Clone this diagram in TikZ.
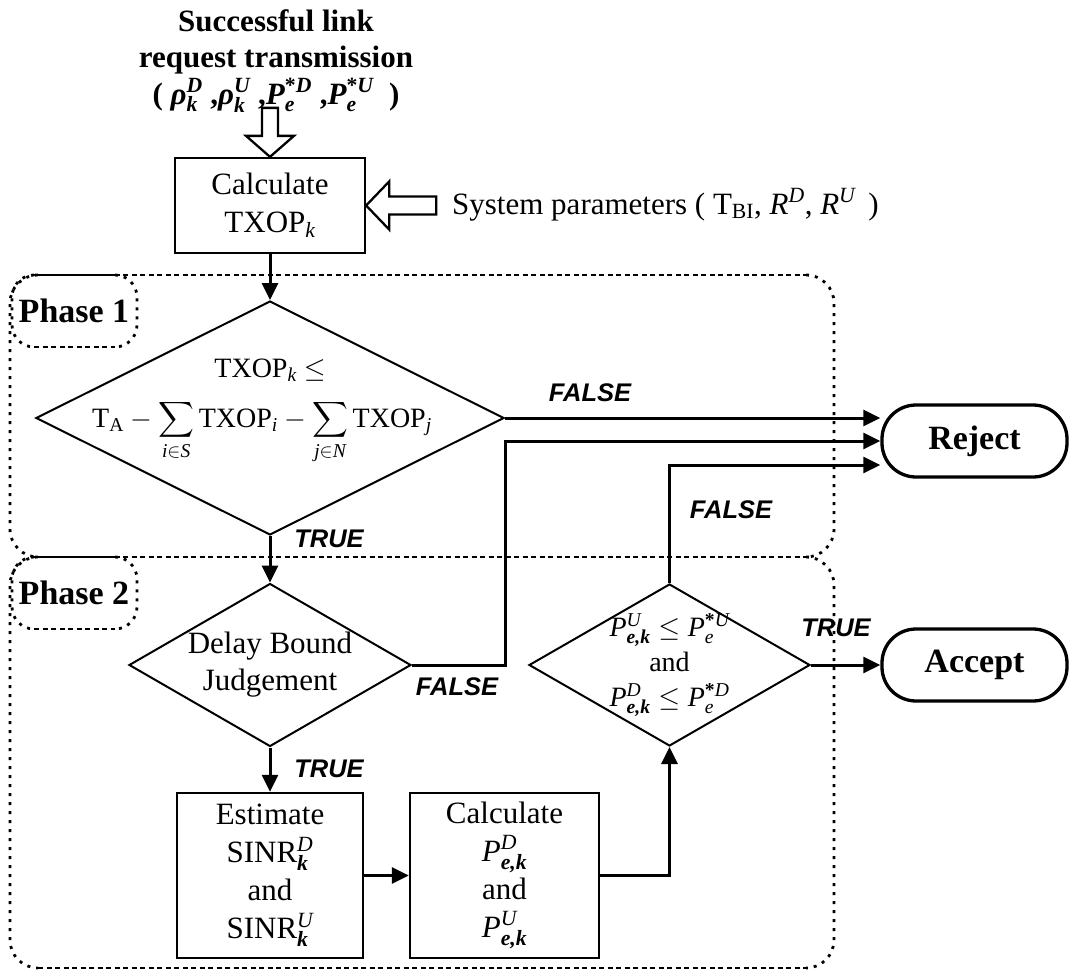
\RequirePackage{fix-cm}
\documentclass[tikz,border=0pt]{standalone}
\usepackage{amsmath}
\usepackage{fontspec}
\setmainfont{Liberation Serif}
\newfontfamily\labelsans{Liberation Sans}
\usetikzlibrary{shapes.geometric,arrows.meta,calc}

% italic and bold-italic variables
\newcommand\vi[1]{\textit{#1}}
\newcommand\vb[1]{\textit{\textbf{#1}}}

% rounded frame: dashed horizontal edges, dotted sides and corners
\newcommand\phaseframe[5]{%
  \draw[hdash] (#1+#5,#2) -- (#3-#5,#2);
  \draw[hdash] (#1+#5,#4) -- (#3-#5,#4);
  \draw[vdot,rounded corners=#5pt] (#1+#5,#2) -- (#1,#2) -- (#1,#4) -- (#1+#5,#4);
  \draw[vdot,rounded corners=#5pt] (#3-#5,#2) -- (#3,#2) -- (#3,#4) -- (#3-#5,#4);
}

\begin{document}
\begin{tikzpicture}[x=1pt,y=-1pt,
  txt/.style={font=\fontsize{31}{37}\selectfont, inner sep=0pt, align=center},
  procbox/.style={draw, line width=2.3pt, rectangle, inner sep=0pt, align=center,
                  font=\fontsize{31}{38}\selectfont},
  decision/.style={draw, diamond, line width=2pt, inner sep=0pt},
  terminal/.style={draw, line width=3.3pt, rounded corners=34pt, minimum width=185pt,
                   minimum height=72pt, inner sep=0pt, font=\bfseries\fontsize{34}{40}\selectfont},
  flow/.style={line width=3pt, -{Triangle[length=17pt,width=16pt]}},
  tf/.style={font=\labelsans\bfseries\itshape\fontsize{25.5}{30}\selectfont, inner sep=0pt},
  hollow/.style={draw, line width=2.3pt, fill=white, line join=miter},
  hdash/.style={line width=2.8pt, dash pattern=on 5pt off 3.5pt},
  vdot/.style={line width=2.8pt, dash pattern=on 3pt off 6pt},
  phasetag/.style={font=\bfseries\fontsize{34}{40}\selectfont, inner sep=0pt}
]
\useasboundingbox (0,0) rectangle (1072,972);

% phase frames
\phaseframe{10}{275}{834}{557}{28}
\phaseframe{10}{557}{834}{968}{28}
\phaseframe{12}{275}{137}{347}{22}
\phaseframe{12}{557}{137}{629}{22}
\node[phasetag] (ph1) at (74,311) {Phase 1};
\node[phasetag] (ph2) at (74,593) {Phase 2};

% inputs
\node[txt, font=\bfseries\fontsize{31}{36}\selectfont, anchor=north] (req) at (276,9)
  {Successful link\\request transmission\\[1pt]
   ( \vb{ρ}$^{\vi{D}}_{\vi{k}}$ ,\vb{ρ}$^{\vi{U}}_{\vi{k}}$ ,\vi{P}$^{\textbf{*}\vi{D}}_{\vi{e}}$ ,\vi{P}$^{\textbf{*}\vi{U}}_{\vi{e}}$ \ )};
\node[procbox, minimum width=190pt, minimum height=95pt] (calc) at (270,205.5)
  {Calculate\\TXOP$_{\vi{k}}$};
\node[txt, anchor=base west] (sys) at (452,214)
  {System parameters ( T$_{\text{BI}}$, \vi{R}$^{\vi{D}}$, \vi{R}$^{\vi{U}}$ \,)};
\draw[hollow] (calc.north) -- ++(-24,-21) -- ++(16,0) -- ++(0,-28) -- ++(16,0)
  -- ++(0,28) -- ++(16,0) -- cycle;
\draw[hollow] (calc.east) -- ++(23,-24) -- ++(0,15) -- ++(47,0) -- ++(0,18)
  -- ++(-47,0) -- ++(0,15) -- cycle;

% phase 1
\node[decision, minimum width=468pt, minimum height=234pt] (d1) at (270,418) {};
\node[txt, font=\fontsize{28}{32}\selectfont, anchor=base] (d1a) at (270,377)
  {TXOP$_{\vi{k}}$ $\leq$};
\node[txt, font=\fontsize{28}{32}\selectfont, anchor=base] (d1b) at (262,427)
  {$\text{T}_{\text{A}} - \displaystyle\sum_{\vi{i}\in\vi{S}}\text{TXOP}_{\vi{i}}
   - \sum_{\vi{j}\in\vi{N}}\text{TXOP}_{\vi{j}}$};

% phase 2
\node[decision, minimum width=282pt, minimum height=163pt] (d2) at (270,665) {};
\node[txt] (d2t) at (270,665) {Delay Bound\\Judgement};
\node[procbox, minimum width=186pt, minimum height=165pt] (est) at (270,875.5)
  {Estimate\\SINR$^{\vi{D}}_{\vb{k}}$\\and\\SINR$^{\vi{U}}_{\vb{k}}$};
\node[procbox, minimum width=189pt, minimum height=165pt] (pe) at (504.5,875.5)
  {Calculate\\$\vi{P}^{\vi{D}}_{\vb{e,k}}$\\and\\$\vi{P}^{\vi{U}}_{\vb{e,k}}$};
\node[decision, minimum width=281pt, minimum height=162pt] (d3) at (669.5,665) {};
\node[txt, font=\fontsize{28}{35}\selectfont] (d3t) at (669.5,665)
  {$\vi{P}^{\vi{U}}_{\vb{e,k}}\leq\vi{P}^{\textbf{*}\vi{U}}_{\vi{e}}$\\and\\
   $\vi{P}^{\vi{D}}_{\vb{e,k}}\leq\vi{P}^{\textbf{*}\vi{D}}_{\vi{e}}$};

% outcomes
\node[terminal] (rej) at (974.5,441) {Reject};
\node[terminal] (acc) at (974.5,665) {Accept};

% connectors
\coordinate (j2) at (505,441);
\coordinate (j3) at (669.5,465);
\draw[flow] (calc.south) -- (d1.north);
\draw[flow] (d1.east) -- (d1.east -| rej.west);
\draw[flow] (d1.south) -- (d2.north);
\draw[flow] (d2.east) -| (j2) -- (rej.west);
\draw[flow] (d2.south) -- (est.north);
\draw[flow] (est.east) -- (pe.west);
\draw[flow] (pe.east) -| (d3.south);
\draw[flow] (d3.north) -- (j3) -- (j3 -| rej.west);
\draw[flow] (d3.east) -- (acc.west);

% branch labels
\node[tf] (f1) at (590,393) {FALSE};
\node[tf] (t1) at (329,539) {TRUE};
\node[tf] (f2) at (457,687) {FALSE};
\node[tf] (t2) at (329,769) {TRUE};
\node[tf] (f3) at (731,510) {FALSE};
\node[tf] (t3) at (836,628) {TRUE};
\end{tikzpicture}
\end{document}
